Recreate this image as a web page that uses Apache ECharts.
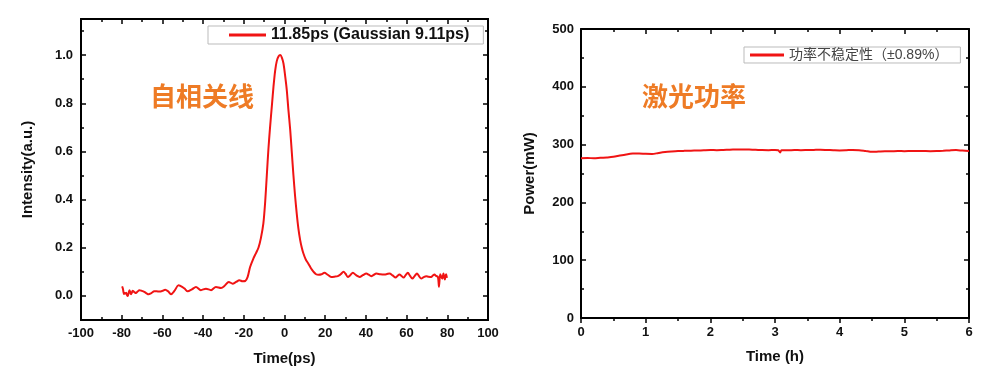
<!DOCTYPE html>
<html>
<head>
<meta charset="utf-8">
<script src="https://cdn.jsdelivr.net/npm/echarts@6/dist/echarts.min.js"></script>
<style>
html,body{margin:0;padding:0;background:#fff;}
#chart{width:1000px;height:383px;}
</style>
</head>
<body>
<div id="chart"></div>
<script>
// ---- Autocorrelation trace (left) ----
const acTime = [-79.8,-79.4,-78.9,-78.6,-78.2,-77.8,-77.4,-77.0,-76.6,-76.2,-75.8,-75.4,-75.0,-74.6,-73.8,-73.0,-72.2,-71.3,-70.1,-68.9,-67.8,-66.8,-65.4,-64.0,-62.8,-61.5,-60.0,-58.6,-57.2,-55.8,-54.0,-52.1,-50.1,-48.8,-47.6,-45.5,-43.5,-41.1,-38.6,-36.1,-33.7,-31.2,-29.3,-27.4,-25.5,-23.8,-22.2,-20.6,-19.3,-18.1,-16.9,-15.3,-14.0,-12.8,-11.6,-10.4,-9.5,-8.7,-7.9,-7.1,-6.2,-5.4,-4.6,-3.8,-2.9,-2.1,-1.3,-0.5,0.3,1.1,1.9,2.8,3.6,4.4,5.2,6.0,6.8,7.7,8.5,9.3,10.5,11.8,13.0,14.3,15.5,16.8,18.2,19.6,21.2,22.9,24.5,26.2,27.6,29.0,30.0,31.1,32.3,33.6,35.2,36.9,38.5,40.2,41.4,42.6,43.8,45.1,47.1,49.2,50.4,51.6,53.1,54.6,55.5,56.5,57.5,58.5,59.5,60.6,61.7,62.8,63.9,65.1,66.1,67.2,68.4,69.6,70.8,72.1,72.9,73.7,74.5,75.4,75.9,76.5,77.0,77.5,78.1,78.8,79.4,79.8];
const acIntensity = [0.040,0.030,0.008,0.012,0.010,0.013,0.004,0.000,0.012,0.024,0.015,0.007,0.014,0.021,0.016,0.012,0.018,0.024,0.021,0.017,0.011,0.007,0.012,0.019,0.019,0.018,0.021,0.026,0.019,0.007,0.022,0.044,0.037,0.028,0.019,0.027,0.037,0.024,0.030,0.024,0.037,0.033,0.043,0.058,0.051,0.058,0.065,0.061,0.062,0.079,0.120,0.155,0.178,0.200,0.240,0.300,0.390,0.500,0.610,0.700,0.790,0.870,0.935,0.975,0.995,1.000,0.990,0.965,0.915,0.857,0.775,0.690,0.595,0.500,0.415,0.343,0.282,0.232,0.200,0.176,0.150,0.133,0.115,0.100,0.090,0.088,0.090,0.096,0.088,0.079,0.080,0.082,0.090,0.100,0.092,0.079,0.086,0.096,0.086,0.079,0.086,0.093,0.088,0.082,0.087,0.093,0.090,0.089,0.091,0.093,0.085,0.076,0.083,0.089,0.083,0.076,0.086,0.096,0.083,0.072,0.082,0.093,0.082,0.072,0.078,0.082,0.080,0.079,0.085,0.089,0.083,0.079,0.038,0.090,0.080,0.072,0.093,0.068,0.090,0.075];
const acXTicks = [-100,-80,-60,-40,-20,0,20,40,60,80,100];
const acYTicks = [0.0,0.2,0.4,0.6,0.8,1.0];
const acYMinor = [0.1,0.3,0.5,0.7,0.9,1.1];
const acName = '11.85ps (Gaussian 9.11ps)';

// ---- Laser power stability (right) ----
const powTime = [0,0.1,0.2,0.3,0.4,0.5,0.6,0.7,0.8,0.9,1.0,1.1,1.2,1.3,1.4,1.5,1.6,1.7,1.8,1.9,2.0,2.1,2.2,2.3,2.4,2.5,2.6,2.7,2.8,2.9,3.0,3.05,3.08,3.1,3.2,3.3,3.4,3.5,3.6,3.7,3.8,3.9,4.0,4.1,4.2,4.3,4.4,4.5,4.6,4.7,4.8,4.9,5.0,5.1,5.2,5.3,5.4,5.5,5.6,5.7,5.8,5.9,6.0];
const powValue = [276.5,276.8,276.4,277.2,277.8,278.8,281.0,283.0,284.5,284.8,284.0,283.8,285.5,287.0,288.0,288.8,289.2,289.5,289.8,290.2,290.5,290.4,290.8,291.2,291.5,291.6,291.4,291.0,290.5,290.4,290.6,290.2,286.5,290.3,290.2,290.5,290.4,290.6,290.8,291.0,290.7,290.3,290.0,290.3,290.8,290.4,289.0,287.5,288.0,288.5,288.6,288.8,288.7,288.9,289.0,288.8,288.6,288.8,289.3,290.0,290.5,289.6,289.0];
const powName = '功率不稳定性（±0.89%）';

const RED = '#f01414';
const lab = {fontFamily:'Liberation Sans, Arial, sans-serif', fontWeight:'bold', fontSize:13, color:'#111'};
const nameStyle = {fontFamily:'Liberation Sans, Arial, sans-serif', fontWeight:'bold', fontSize:15, color:'#111'};
const tickLine = {color:'#000', width:1.5};
const axLine = {show:true, onZero:false, lineStyle:{color:'#000', width:2}};

function valAxis(extra){
  return Object.assign({
    type:'value', splitLine:{show:false}, axisLine:axLine,
    axisTick:{show:true, inside:true, length:5, lineStyle:tickLine},
    minorTick:{show:true, splitNumber:2, length:3, lineStyle:tickLine},
    axisLabel:{show:false}
  }, extra);
}

const option = {
  animation:false,
  backgroundColor:'#fff',
  grid:[
    {left:81, right:512, top:19, bottom:63, show:false},
    {left:581, right:31, top:29, bottom:65, show:false}
  ],
  xAxis:[
    valAxis({gridIndex:0, position:'bottom', min:-100, max:100, interval:20,
      axisLabel:Object.assign({show:true, margin:7}, lab),
      name:'Time(ps)', nameLocation:'middle', nameGap:31, nameTextStyle:nameStyle}),
    valAxis({gridIndex:0, position:'top', min:-100, max:100, interval:20}),
    valAxis({gridIndex:1, position:'bottom', min:0, max:6, interval:1,
      axisTick:{show:true, inside:false, length:5, lineStyle:tickLine},
      minorTick:{show:true, splitNumber:2, length:3, lineStyle:tickLine},
      axisLabel:Object.assign({show:true, margin:8}, lab),
      name:'Time (h)', nameLocation:'middle', nameGap:31, nameTextStyle:nameStyle}),
    valAxis({gridIndex:1, position:'top', min:0, max:6, interval:1})
  ],
  yAxis:[
    valAxis({gridIndex:0, position:'left', min:-0.1, max:1.15, minorTick:{show:false},
      axisTick:{show:true, inside:true, length:5, lineStyle:tickLine, customValues:acYTicks},
      axisLabel:Object.assign({show:true, margin:8, customValues:acYTicks, formatter:v=>v.toFixed(1)}, lab),
      name:'Intensity(a.u.)', nameLocation:'middle', nameGap:46, nameTextStyle:nameStyle}),
    valAxis({gridIndex:0, position:'left', min:-0.1, max:1.15, minorTick:{show:false},
      axisTick:{show:true, inside:true, length:3, lineStyle:tickLine, customValues:acYMinor}}),
    valAxis({gridIndex:0, position:'right', min:-0.1, max:1.15, minorTick:{show:false},
      axisTick:{show:true, inside:true, length:5, lineStyle:tickLine, customValues:acYTicks}}),
    valAxis({gridIndex:0, position:'right', min:-0.1, max:1.15, minorTick:{show:false},
      axisTick:{show:true, inside:true, length:3, lineStyle:tickLine, customValues:acYMinor}}),
    valAxis({gridIndex:1, position:'left', min:0, max:500, interval:100,
      axisLabel:Object.assign({show:true, margin:7}, lab),
      name:'Power(mW)', nameLocation:'middle', nameGap:44, nameTextStyle:nameStyle}),
    valAxis({gridIndex:1, position:'right', min:0, max:500, interval:100})
  ],
  legend:[
    {data:[acName], left:208, top:26, icon:'rect', itemWidth:37, itemHeight:3,
     padding:[1,14,1,21], backgroundColor:'#fff', borderColor:'#bbb', borderWidth:1,
     textStyle:{fontFamily:'Liberation Sans, Arial, sans-serif', fontWeight:'bold', fontSize:16, color:'#111'}},
    {data:[powName], left:744, top:47, icon:'rect', itemWidth:34, itemHeight:3,
     padding:[1,12,1,6], backgroundColor:'#fff', borderColor:'#bbb', borderWidth:1,
     textStyle:{fontFamily:'Liberation Sans, "Noto Sans CJK SC", sans-serif', fontSize:14, color:'#444'}}
  ],
  graphic:[
    {type:'text', left:150, top:83, style:{text:'自相关线', fill:'#ee7b25', font:'bold 26px "Noto Sans CJK SC"'}},
    {type:'text', left:642, top:83, style:{text:'激光功率', fill:'#ee7b25', font:'bold 26px "Noto Sans CJK SC"'}}
  ],
  series:[
    {name:acName, type:'line', xAxisIndex:0, yAxisIndex:0, showSymbol:false, symbol:'none', smooth:0.3,
     color:RED, lineStyle:{color:RED, width:2}, data:acTime.map((t,i)=>[t, acIntensity[i]])},
    {name:powName, type:'line', xAxisIndex:2, yAxisIndex:4, showSymbol:false, symbol:'none', smooth:0.3,
     color:RED, lineStyle:{color:RED, width:2}, data:powTime.map((t,i)=>[t, powValue[i]])}
  ]
};
echarts.init(document.getElementById('chart'), null, {renderer:'canvas'}).setOption(option);
</script>
</body>
</html>
